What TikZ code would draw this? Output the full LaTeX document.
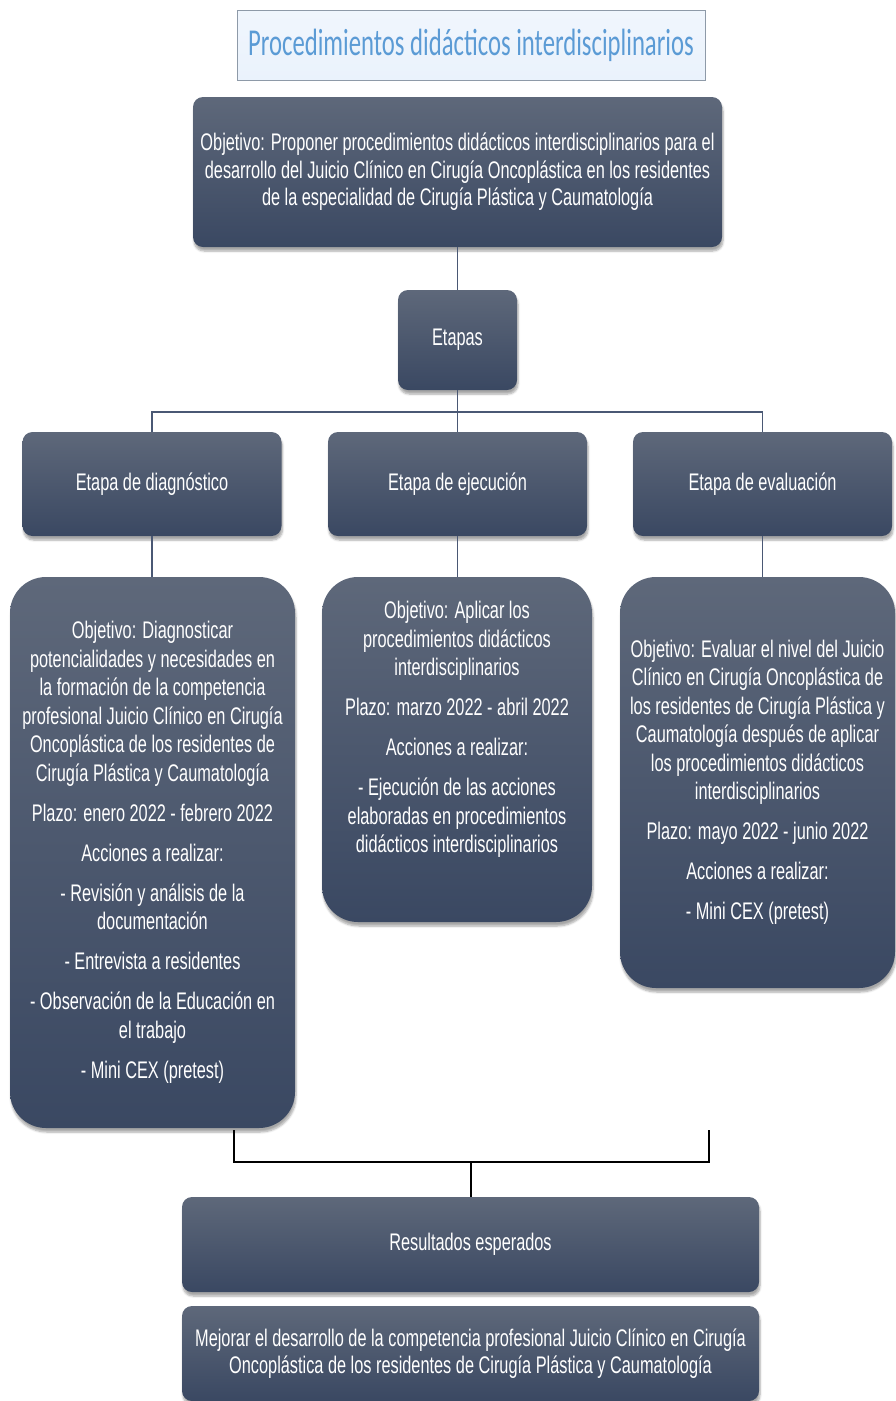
\documentclass[tikz,border=0pt]{standalone}
\usepackage{fontspec}
\setmainfont[FakeStretch=0.68]{Liberation Sans}
\newfontfamily\titlefont[FakeStretch=0.65]{Carlito}
\usetikzlibrary{shadows.blur}
\definecolor{slatetop}{RGB}{94,104,122}
\definecolor{slatebot}{RGB}{58,72,98}
\definecolor{linkcol}{RGB}{74,88,116}
\definecolor{titleblue}{RGB}{91,155,213}
\definecolor{titlefill}{RGB}{234,242,252}
\definecolor{titleedge}{RGB}{142,154,168}
\begin{document}
\begin{tikzpicture}[x=1pt,y=-1pt,
    slatebox/.style={rounded corners=10pt, top color=slatetop, bottom color=slatebot,
        text=white, align=center, inner sep=0pt,
        blur shadow={shadow xshift=1pt, shadow yshift=-4pt, shadow opacity=35, shadow blur steps=6},
        font=\fontsize{24}{27.5}\selectfont},
    detailbox/.style={slatebox, rounded corners=36pt},
    detailtext/.style={text=white, align=center, inner sep=0pt,
        font=\fontsize{24}{28.5}\selectfont},
    link/.style={draw=linkcol, line width=1.4pt},
    blacklink/.style={draw=black, line width=1.6pt}]
    \useasboundingbox (0,0) rectangle (895,1401);
    \node[draw=titleedge, line width=1pt, top color=titlefill!70!white, bottom color=titlefill,
        minimum width=468pt, minimum height=70pt, text=titleblue,
        font=\titlefont\fontsize{38}{40}\selectfont] (titulo) at (471,45) {Procedimientos didácticos interdisciplinarios};
    \node[slatebox, minimum width=529pt, minimum height=150pt] (objetivo) at (457.5,172)
        {Objetivo: Proponer procedimientos didácticos interdisciplinarios para el\\
         desarrollo del Juicio Clínico en Cirugía Oncoplástica en los residentes\\
         de la especialidad de Cirugía Plástica y Caumatología};
    \node[slatebox, minimum width=119pt, minimum height=100pt] (etapas) at (457.5,340) {Etapas};
    \node[slatebox, minimum width=259pt, minimum height=104pt] (diag) at (152,484) {Etapa de diagnóstico};
    \node[slatebox, minimum width=259pt, minimum height=104pt] (ejec) at (457.5,484) {Etapa de ejecución};
    \node[slatebox, minimum width=259pt, minimum height=104pt] (eval) at (762.5,484) {Etapa de evaluación};
    \node[detailbox, minimum width=285pt, minimum height=551pt] (diagdet) at (152.5,852.5) {};
    \node[detailbox, minimum width=270pt, minimum height=345pt] (ejecdet) at (457,749.5) {};
    \node[detailbox, minimum width=275pt, minimum height=411pt] (evaldet) at (757.5,782.5) {};
    \node[detailtext] (diagtxt) at (diagdet) {Objetivo: Diagnosticar\\ potencialidades y necesidades en\\
        la formación de la competencia\\ profesional Juicio Clínico en Cirugía\\
        Oncoplástica de los residentes de\\ Cirugía Plástica y Caumatología\\[11.5pt]
        Plazo: enero 2022 - febrero 2022\\[11.5pt] Acciones a realizar:\\[11.5pt]
        - Revisión y análisis de la\\ documentación\\[11.5pt] - Entrevista a residentes\\[11.5pt]
        - Observación de la Educación en\\ el trabajo\\[11.5pt] - Mini CEX (pretest)};
    \node[detailtext, yshift=20pt] (ejectxt) at (ejecdet) {Objetivo: Aplicar los\\ procedimientos didácticos\\
        interdisciplinarios\\[11.5pt] Plazo: marzo 2022 - abril 2022\\[11.5pt] Acciones a realizar:\\[11.5pt]
        - Ejecución de las acciones\\ elaboradas en procedimientos\\ didácticos interdisciplinarios};
    \node[detailtext] (evaltxt) at (evaldet) {Objetivo: Evaluar el nivel del Juicio\\
        Clínico en Cirugía Oncoplástica de\\ los residentes de Cirugía Plástica y\\
        Caumatología después de aplicar\\ los procedimientos didácticos\\ interdisciplinarios\\[11.5pt]
        Plazo: mayo 2022 - junio 2022\\[11.5pt] Acciones a realizar:\\[11.5pt] - Mini CEX (pretest)};
    \node[slatebox, minimum width=577pt, minimum height=95pt] (resultados) at (470.5,1244.5) {Resultados esperados};
    \node[slatebox, minimum width=577pt, minimum height=95pt] (mejorar) at (470.5,1353.5)
        {Mejorar el desarrollo de la competencia profesional Juicio Clínico en Cirugía\\
         Oncoplástica de los residentes de Cirugía Plástica y Caumatología};
    \coordinate (bus) at (457.5,412);
    \coordinate (lf) at (234,1130);
    \coordinate (rf) at (709,1130);
    \coordinate (jn) at (471,1162);
    \draw[link] (objetivo.south) -- (etapas.north);
    \draw[link] (etapas.south) -- (ejec.north);
    \draw[link] (diag.north) |- (bus) -| (eval.north);
    \draw[link] (diag.south) -- (diag.south |- diagdet.north);
    \draw[link] (ejec.south) -- (ejec.south |- ejecdet.north);
    \draw[link] (eval.south) -- (eval.south |- evaldet.north);
    \draw[blacklink] (lf) |- (jn) -| (rf);
    \draw[blacklink] (jn) -- (jn |- resultados.north);
\end{tikzpicture}
\end{document}
